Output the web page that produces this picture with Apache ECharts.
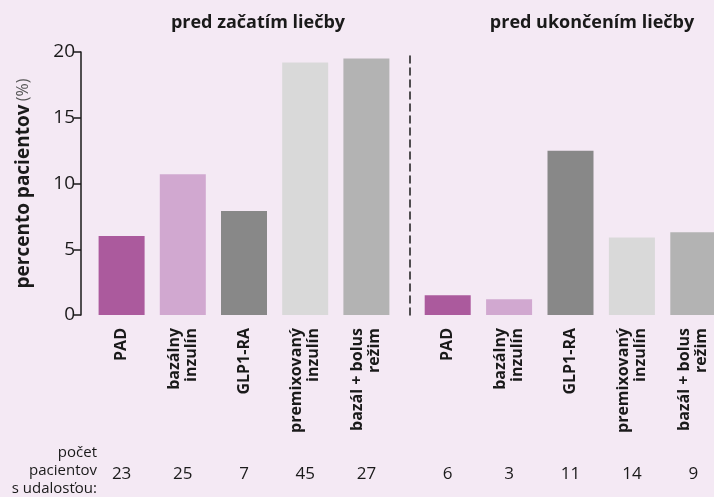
<!DOCTYPE html>
<html>
<head>
<meta charset="utf-8">
<script src="https://cdn.jsdelivr.net/npm/echarts@6/dist/echarts.min.js"></script>
<style>
    html, body { margin: 0; padding: 0; background: #f4e9f4; }
    #chart { width: 714px; height: 497px; }
</style>
</head>
<body>
<div id="chart"></div>
<script>
// kategórie liečby
const categories = ['PAD', 'bazálny\ninzulín', 'GLP1-RA', 'premixovaný\ninzulín', 'bazál + bolus\nrežim']
const barColors = ['#ab5a9d', '#d1a8d0', '#888888', '#d9d9d9', '#b3b3b3']

// percento pacientov
const beforeStart = [6.0, 10.7, 7.9, 19.2, 19.5]
const beforeEnd = [1.5, 1.2, 12.5, 5.9, 6.3]

// počet pacientov s udalosťou
const countsStart = ['23', '25', '7', '45', '27']
const countsEnd = ['6', '3', '11', '14', '9']

const yTicks = { min: 0, max: 20, interval: 5 }
const groupTitles = ['pred začatím liečby', 'pred ukončením liečby']

const FONT = '"Open Sans", "Noto Sans", sans-serif'
const NARROW = '"Liberation Sans Narrow", "Open Sans", sans-serif'

function catAxis(gridIndex) {
    return {
        type: 'category',
        gridIndex,
        data: categories,
        axisLine: { show: false },
        axisTick: { show: false },
        axisLabel: {
            rotate: 90,
            margin: 13,
            interval: 0,
            color: '#1a1a1a',
            fontFamily: FONT,
            fontWeight: 'bold',
            fontSize: 16,
            lineHeight: 17,
        },
    }
}

function countAxis(gridIndex, counts) {
    return {
        type: 'category',
        gridIndex,
        data: counts,
        position: 'bottom',
        offset: 143,
        axisLine: { show: false },
        axisTick: { show: false },
        axisLabel: {
            interval: 0,
            color: '#1a1a1a',
            fontFamily: NARROW,
            fontSize: 17,
        },
    }
}

function bars(gridIndex, values) {
    return {
        type: 'bar',
        xAxisIndex: gridIndex * 2,
        yAxisIndex: gridIndex,
        barWidth: 46,
        data: values.map((v, i) => ({ value: v, itemStyle: { color: barColors[i] } })),
    }
}

const option = {
    backgroundColor: '#f4e9f4',
    animation: false,
    graphic: [
        {
            type: 'text', x: 258, y: 14,
            style: { text: groupTitles[0], textAlign: 'center', font: 'bold 18px ' + FONT, fill: '#1a1a1a' },
        },
        {
            type: 'text', x: 592, y: 14,
            style: { text: groupTitles[1], textAlign: 'center', font: 'bold 18px ' + FONT, fill: '#1a1a1a' },
        },
        {
            type: 'text', x: 97, y: 444,
            style: {
                text: 'počet\npacientov\ns udalosťou:',
                textAlign: 'right',
                font: '15px ' + NARROW,
                lineHeight: 18,
                fill: '#1a1a1a',
            },
        },
    ],
    grid: [
        { left: 91, width: 306, top: 52, height: 263, outerBoundsMode: 'none' },
        { left: 417, width: 307, top: 52, height: 263, outerBoundsMode: 'none' },
    ],
    xAxis: [
        catAxis(0),
        countAxis(0, countsStart),
        catAxis(1),
        countAxis(1, countsEnd),
    ],
    yAxis: [
        {
            type: 'value',
            gridIndex: 0,
            ...yTicks,
            offset: 10,
            name: '{b|percento pacientov} {n|(%)}',
            nameLocation: 'middle',
            nameGap: 48,
            nameTextStyle: {
                rich: {
                    b: { fontFamily: FONT, fontWeight: 'bold', fontSize: 19, color: '#1a1a1a' },
                    n: { fontFamily: FONT, fontSize: 16, color: '#555' },
                },
            },
            axisLine: { show: true, lineStyle: { color: '#1a1a1a', width: 1.5 } },
            axisTick: { show: true, length: 7, lineStyle: { color: '#1a1a1a', width: 1.5 } },
            axisLabel: { margin: 6, color: '#1a1a1a', fontFamily: FONT, fontSize: 19 },
            splitLine: { show: false },
        },
        {
            type: 'value',
            gridIndex: 1,
            ...yTicks,
            offset: 7,
            axisLine: { show: true, lineStyle: { color: '#1a1a1a', width: 1.5, type: [7, 5] } },
            axisTick: { show: false },
            axisLabel: { show: false },
            splitLine: { show: false },
        },
    ],
    series: [bars(0, beforeStart), bars(1, beforeEnd)],
}

const myChart = echarts.init(document.getElementById('chart'))
myChart.setOption(option)
</script>
</body>
</html>
